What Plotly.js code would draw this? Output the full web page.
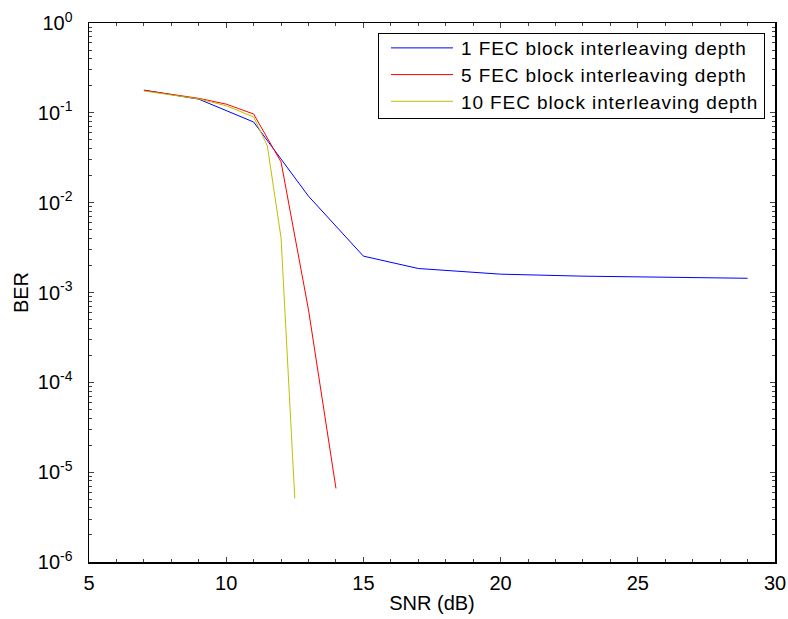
<!DOCTYPE html>
<html><head><meta charset="utf-8">
<script src="https://cdn.plot.ly/plotly-3.0.1.min.js"></script>
<style>body{margin:0;padding:0;background:#fff}#c{width:788px;height:619px}
.legendtext{letter-spacing:0.9px}</style>
</head><body><div id="c"></div>
<script>
const snr1 = [7, 9, 11, 13, 15, 17, 20, 23, 29];
const ber1 = [0.179, 0.142, 0.079, 0.0118, 0.00254, 0.00185, 0.0016, 0.00152, 0.00144];
const snr5 = [7, 9, 10, 11, 12, 13, 14];
const ber5 = [0.178, 0.145, 0.125, 0.097, 0.0283, 0.00064, 0.0000066];
const snr10 = [7, 9, 10, 11, 11.5, 12, 12.5];
const ber10 = [0.175, 0.143, 0.12, 0.09, 0.0427, 0.00403, 0.0000051];
const names = ['1 FEC block interleaving depth','5 FEC block interleaving depth','10 FEC block interleaving depth'];
const yTickVals = [1, 0.1, 0.01, 0.001, 1e-4, 1e-5, 1e-6];
const yTickText = ['10<sup>0</sup>','10<sup>-1</sup>','10<sup>-2</sup>','10<sup>-3</sup>','10<sup>-4</sup>','10<sup>-5</sup>','10<sup>-6</sup>'];
const xTickVals = [5, 10, 15, 20, 25, 30];

const fam = 'Liberation Sans, Arial, sans-serif';
const font = {family: fam, size: 20, color: '#000'};
const legFont = {family: fam, size: 19, color: '#000'};
const data = [
  {x: snr1, y: ber1, name: names[0], mode: 'lines', line: {color: 'rgb(0,0,255)', width: 1}},
  {x: snr5, y: ber5, name: names[1], mode: 'lines', line: {color: 'rgb(255,0,0)', width: 1}},
  {x: snr10, y: ber10, name: names[2], mode: 'lines', line: {color: 'rgb(191,191,0)', width: 1}}
];
const layout = {
  width: 788, height: 619,
  margin: {l: 89, r: 13, t: 23, b: 57},
  paper_bgcolor: '#fff', plot_bgcolor: '#fff',
  font: font,
  showlegend: true,
  legend: {x: 0.9854, xanchor: 'right', y: 0.9814, yanchor: 'top', bgcolor: '#fff',
           bordercolor: '#000', borderwidth: 1, font: legFont, tracegroupgap: 0, itemwidth: 72},
  xaxis: {range: [5, 30], tickvals: xTickVals, ticks: 'inside', ticklen: 5, mirror: 'allticks',
          showline: true, linecolor: '#000', linewidth: 1.5, showgrid: false, zeroline: false,
          tickfont: font, ticklabelstandoff: 2, title: {text: 'SNR (dB)', font: font, standoff: 3},
          minor: {ticks: 'inside', ticklen: 3, dtick: 1, showgrid: false}},
  yaxis: {type: 'log', range: [-6, 0], tickvals: yTickVals, ticktext: yTickText, ticks: 'inside', ticklen: 5,
          mirror: 'allticks', showline: true, linecolor: '#000', linewidth: 1.5, showgrid: false, zeroline: false,
          tickfont: font, ticklabelstandoff: 11, title: {text: 'BER', font: font, standoff: 4},
          minor: {ticks: 'inside', ticklen: 3, dtick: 'D1', showgrid: false}}
};
Plotly.newPlot('c', data, layout, {displayModeBar: false, staticPlot: true}).then(function(gd){
  gd.querySelectorAll('.legend .legendlines path').forEach(function(p){ p.setAttribute('d', 'M12,0h62'); });
  // tighten legend rows to match the reference spacing
  gd.querySelectorAll('.legend .traces').forEach(function(g, i){
    const t = g.getAttribute('transform') || '';
    const m = t.match(/translate\(\s*([-\d.]+)[ ,]+([-\d.]+)\s*\)/);
    if (m) g.setAttribute('transform', 'translate(' + m[1] + ',' + (parseFloat(m[2]) - 5 - i) + ')');
  });
  const bg = gd.querySelector('.legend .bg');
  if (bg) bg.setAttribute('height', parseFloat(bg.getAttribute('height')) - 10);
});
</script></body></html>
